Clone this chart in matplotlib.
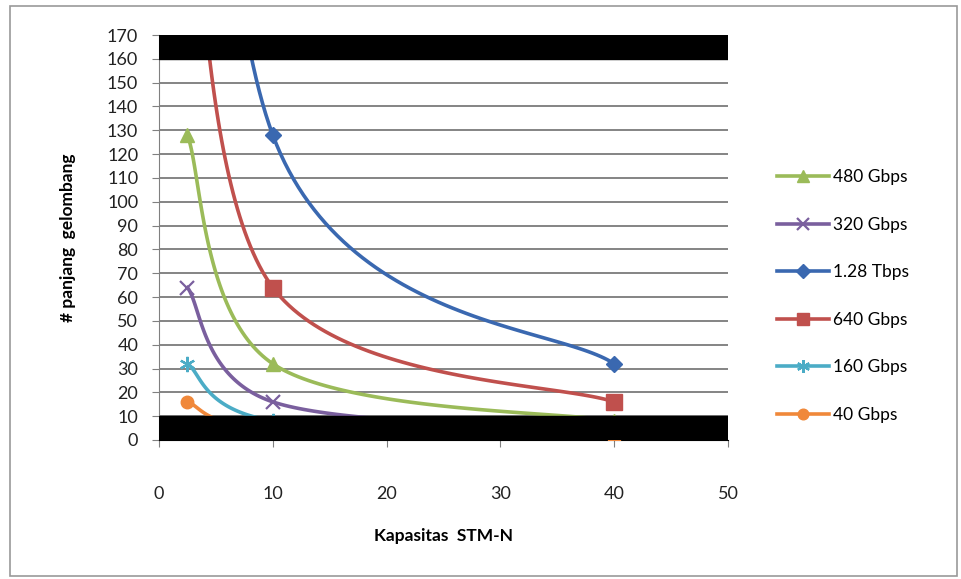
import numpy as np
import matplotlib
matplotlib.use("Agg")
import matplotlib.pyplot as plt
from matplotlib.patches import Rectangle

# STM-N rate (Gbps) on the x axis
stm_rate = [2.5, 10, 40]

labels = ["480 Gbps", "320 Gbps", "1.28 Tbps", "640 Gbps", "160 Gbps", "40 Gbps"]
n_480 = [128, 32, 8]
n_320 = [64, 16, 4]
n_1280 = [512, 128, 32]
n_640 = [256, 64, 16]
n_160 = [32, 8, 2]
n_40 = [16, 4, 1]
series = [n_480, n_320, n_1280, n_640, n_160, n_40]

colors = ["#9BBB59", "#7A5F9E", "#3A68B0", "#C0504D", "#4BACC6", "#F0883A"]
markers = ["^", "x", "D", "s", (6, 2, 0), "o"]
msizes = [10, 10, 8, 11, 11, 9]

plt.rcParams['font.family'] = ['Lato', 'DejaVu Sans']


def smooth(xs, ys, n=60):
  """ Excel-like smoothed line: cubic bezier with 1/6 tangents """
  p = np.column_stack([xs, ys]).astype(float)
  ext = np.vstack([p[0], p, p[-1]])
  out = []
  t = np.linspace(0, 1, n)[:, None]
  for i in range(len(p) - 1):
    p0 = p[i]
    p3 = p[i + 1]
    c1 = p0 + (ext[i + 2] - ext[i]) / 6.0
    c2 = p3 - (ext[i + 3] - ext[i + 1]) / 6.0
    seg = ((1 - t)**3) * p0 + 3 * ((1 - t)**2) * t * c1 + 3 * (1 - t) * t**2 * c2 + t**3 * p3
    out.append(seg)
  curve = np.vstack(out)
  return curve[:, 0], curve[:, 1]


fig = plt.figure(figsize=(9.61, 5.79), dpi=100)
ax = fig.add_axes([159/961, 1 - 440/579, 569/961, 405/579])

for ys, lab, c, m, ms in zip(series, labels, colors, markers, msizes):
  sx, sy = smooth(stm_rate, ys)
  ax.plot(sx, sy, color=c, lw=2.6, zorder=3)
  mew = 1.6 if m in ("x", (6, 2, 0)) else 1.0
  ax.plot(stm_rate, ys, linestyle='none', marker=m, color=c, ms=ms, mew=mew, zorder=4)
  ax.plot([], [], color=c, lw=2.6, marker=m, ms=ms * 0.85, mew=mew, label=lab)

# black bars over the top and bottom bands
ax.axhspan(160, 170, color='black', zorder=5)
ax.axhspan(0, 10, color='black', zorder=5)

ax.set_xlim(0, 50)
ax.set_ylim(0, 170)
ax.set_xticks(np.arange(0, 51, 10))
ax.set_yticks(np.arange(0, 171, 10))
ax.yaxis.grid(True, color='#707070', lw=1.2)
ax.set_axisbelow(True)
for s in ['top', 'right']:
  ax.spines[s].set_visible(False)
ax.spines['left'].set_color('#808080')
ax.spines['bottom'].set_color('black')
ax.tick_params(axis='both', colors='#808080', labelcolor='#222222', labelsize=13, length=5, direction='out')
ax.tick_params(axis='y', pad=10)
ax.tick_params(axis='x', pad=28)

ax.set_xlabel('Kapasitas  STM-N', fontsize=12.5, fontweight='bold', labelpad=19)
ax.set_ylabel('# panjang  gelombang', fontsize=12.5, fontweight='bold', labelpad=22)

fig.legend(loc='upper left', bbox_to_anchor=(777/961, 1 - 169/579), frameon=False, fontsize=12.5,
           handlelength=3.0, handletextpad=0.2, labelspacing=1.82, borderaxespad=0, borderpad=0)

# outer chart frame
fig.patches.append(Rectangle((10/961, 3/579), 947/961, 570/579, transform=fig.transFigure,
                             fill=False, edgecolor='#999999', lw=1.2))

fig.savefig('out.png', dpi=100)
